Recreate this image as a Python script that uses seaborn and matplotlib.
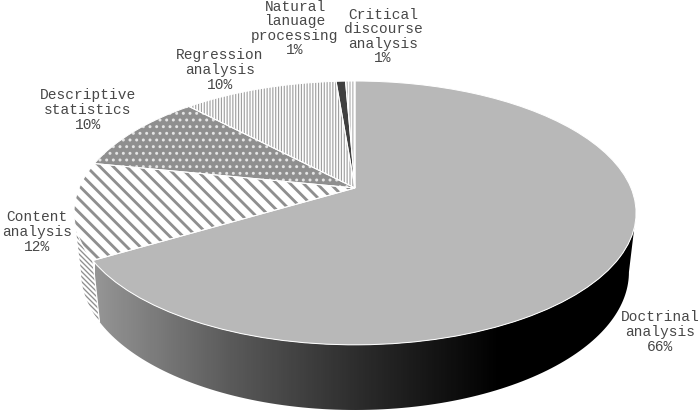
import numpy as np
import matplotlib
matplotlib.use('Agg')
import matplotlib.pyplot as plt
import seaborn as sns
from matplotlib.patches import Polygon
from matplotlib.transforms import Transform

# data
methods = ['Doctrinal\nanalysis', 'Content\nanalysis', 'Descriptive\nstatistics',
           'Regression\nanalysis', 'Natural\nlanuage\nprocessing', 'Critical\ndiscourse\nanalysis']
percent_labels = [66, 12, 10, 10, 1, 1]
# slice sizes as drawn, the printed labels are rounded
shares = [66.4, 11.8, 9.8, 10.7, 0.65, 0.65]

# looks
fills = ['#b8b8b8', 'white', '#8f8f8f', 'white', '#404040', 'white']
hatch_colors = ['#b8b8b8', '#8f8f8f', '#e4e4e4', '#a0a0a0', '#404040', '#b0b0b0']
hatches = [None, '\\\\\\', '...', '|||||||', None, '|||||||']
hatch_widths = [0.5, 1.7, 1.0, 0.7, 0.5, 0.7]
label_pos = [(660, 332), (37, 232), (88, 110), (220, 70), (295, 28.5), (383, 36.5)]

sns.set_style('white')
plt.rcParams['font.family'] = ['Liberation Mono', 'DejaVu Sans']


class Tilt(Transform):
    # projects the flat pie onto the slanted disc
    input_dims = 2
    output_dims = 2
    has_inverse = False
    is_separable = False

    def __init__(self, a, b, k, cx, cy):
        super().__init__()
        self.a, self.b, self.k, self.cx, self.cy = a, b, k, cx, cy

    def transform_non_affine(self, values):
        u, v = values[:, 0], values[:, 1]
        w = 1 + self.k * v
        return np.column_stack([self.cx + self.a * u / w, self.cy - self.b * v / w])


def rim(tilt, start, stop):
    t = np.radians(np.linspace(start, stop, 120))
    return tilt.transform_non_affine(np.column_stack([np.cos(t), np.sin(t)]))


fig = plt.figure(figsize=(699 / 120, 412 / 120), dpi=120)
ax = fig.add_axes([0, 0, 1, 1])

wedges, _ = ax.pie(shares, startangle=90, counterclock=False, hatch=hatches, colors=fills,
                   wedgeprops={'linewidth': 0})
outlines, _ = ax.pie(shares, startangle=90, counterclock=False,
                     wedgeprops={'fill': False, 'edgecolor': 'white', 'linewidth': 0.6})

ax.set_aspect('auto')
ax.axis('off')

top = Tilt(276, 127.2, 0.189, 355, 188)
low = Tilt(269, 133, 0.189, 355, 246)

for w, c, lw in zip(wedges, hatch_colors, hatch_widths):
    w.set_edgecolor(c)
    w.set_linewidth(0)
    w.set_hatch_linewidth(lw)
    w.set_transform(top + ax.transData)
    w.set_zorder(3)
for w in outlines:
    w.set_transform(top + ax.transData)
    w.set_zorder(4)

# side wall of the biggest slice, with its dark to light shading
edge = np.degrees(np.arcsin(-top.k))
doc = wedges[0]
wall = np.vstack([rim(top, edge, doc.theta1), rim(low, doc.theta1, edge)])
shade = sns.blend_palette(['#959595', '#5a5a5a', '#2a2a2a', '#000000', '#000000'], as_cmap=True)
img = ax.imshow(np.linspace(0, 1, 540)[None, :], cmap=shade, extent=(95, 635, 420, 190),
                aspect='auto', zorder=1)
clip = Polygon(wall, closed=True, transform=ax.transData, fc='none', ec='none')
ax.add_patch(clip)
img.set_clip_path(clip)

# side wall of the slice next to it
con = wedges[1]
left = -180 - edge
wall2 = np.vstack([rim(top, con.theta2, left), rim(low, left, con.theta2)])
side = Polygon(wall2, closed=True, facecolor='white', edgecolor='#8f8f8f', linewidth=0,
               hatch='\\\\\\\\\\\\\\\\', zorder=1)
side.set_hatch_linewidth(0.8)
ax.add_patch(side)
seam_top = rim(top, doc.theta1, doc.theta1)[0]
seam_low = rim(low, doc.theta1, doc.theta1)[0]
ax.plot([seam_top[0], seam_low[0]], [seam_top[1], seam_low[1]], color='white', lw=0.7, zorder=2)

ax.set_xlim(0, 699)
ax.set_ylim(412, 0)

for name, s, (x, y) in zip(methods, percent_labels, label_pos):
    ax.text(x, y, f'{name}\n{s}%', ha='center', va='center', fontsize=8.7, color='#484848',
            linespacing=1.05, zorder=5)

fig.savefig('out.png', dpi=120, facecolor='white')
